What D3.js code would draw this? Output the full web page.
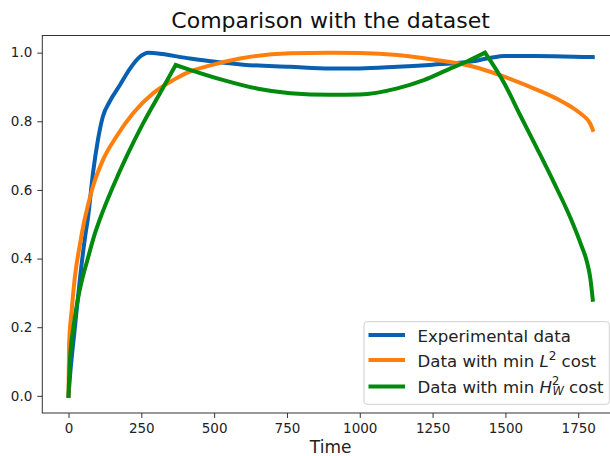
<!DOCTYPE html>
<html>
<head>
<meta charset="utf-8">
<script src="https://cdn.jsdelivr.net/npm/d3@7"></script>
<style>
  html, body { margin: 0; padding: 0; background: #fff; }
  svg { display: block; font-family: "DejaVu Sans", sans-serif; }
</style>
</head>
<body>
<svg id="chart" width="610" height="456"></svg>
<script>
// ---- Data ----
const title = "Comparison with the dataset";
const xLabel = "Time";
const xTicks = [0, 250, 500, 750, 1000, 1250, 1500, 1750];
const yTicks = [0.0, 0.2, 0.4, 0.6, 0.8, 1.0];

const experimentalT = [0, 5, 22, 40, 57, 67, 84, 101, 118, 141, 176, 210, 245, 273, 300, 417, 497, 600, 761, 900, 1000, 1129, 1250, 1381, 1450, 1496, 1600, 1700, 1800];
const experimentalV = [0, 0.056, 0.20, 0.347, 0.464, 0.52, 0.649, 0.746, 0.814, 0.857, 0.905, 0.952, 0.988, 1.0, 0.998, 0.983, 0.974, 0.965, 0.959, 0.954, 0.954, 0.959, 0.965, 0.974, 0.985, 0.99, 0.99, 0.989, 0.987];

const l2T = [0, 2, 11, 22, 40, 55, 63, 84, 118, 164, 221, 291, 359, 417, 474, 589, 761, 899, 1000, 1129, 1250, 1381, 1496, 1611, 1680, 1730, 1765, 1790, 1800];
const l2V = [0, 0.15, 0.25, 0.347, 0.445, 0.513, 0.542, 0.61, 0.687, 0.755, 0.823, 0.882, 0.92, 0.945, 0.96, 0.983, 0.998, 1.0, 0.999, 0.993, 0.98, 0.961, 0.93, 0.891, 0.864, 0.84, 0.818, 0.795, 0.775];

const h2T = [0, 5, 17, 34, 50, 63, 91, 107, 153, 199, 256, 314, 368, 417, 532, 650, 761, 899, 1000, 1129, 1220, 1301, 1370, 1430, 1496, 1553, 1611, 1668, 1726, 1760, 1780, 1792, 1800];
const h2V = [0, 0.105, 0.20, 0.29, 0.35, 0.39, 0.474, 0.513, 0.61, 0.697, 0.794, 0.882, 0.964, 0.95, 0.92, 0.895, 0.882, 0.877, 0.878, 0.896, 0.92, 0.95, 0.975, 1.0, 0.911, 0.814, 0.717, 0.619, 0.513, 0.44, 0.39, 0.34, 0.28];

const seriesNames = ["Experimental data", "Data with min L² cost", "Data with min H²_W cost"];
const seriesColors = ["#0a60b0", "#ff7f0e", "#008a0e"];

// ---- Layout ----
const svg = d3.select("#chart");
const plot = { left: 42.3, right: 619, top: 35.5, bottom: 413 };

const x = d3.scaleLinear().domain([-90, 1890]).range([plot.left, plot.right]);
const y = d3.scaleLinear().domain([-0.05, 1.05]).range([plot.bottom, plot.top]);

// ---- Series ----
function zipSeries(ts, vs) { return ts.map((t, i) => ({ t, v: vs[i] })); }
const series = [
  zipSeries(experimentalT, experimentalV),
  zipSeries(l2T, l2V),
  zipSeries(h2T, h2V)
];

const lineGen = d3.line().x(d => x(d.t)).y(d => y(d.v)).curve(d3.curveMonotoneX);

// split a series at sharp peaks (kinks) so each piece is smoothed separately
function pieces(data, kinkIdx) {
  const out = [];
  let start = 0;
  kinkIdx.forEach(k => { out.push(data.slice(start, k + 1)); start = k; });
  out.push(data.slice(start));
  return out;
}

const g = svg.append("g");
series.forEach((data, i) => {
  let parts;
  if (i === 2) {
    const k1 = h2T.indexOf(368), k2 = h2T.indexOf(1430);
    parts = pieces(data, [k1, k2]);
  } else parts = [data];
  g.append("path")
    .attr("d", parts.map(p => lineGen(p)).join(" ").replace(/ M/g, " L"))
    .attr("fill", "none")
    .attr("stroke", seriesColors[i])
    .attr("stroke-width", 4)
    .attr("stroke-linejoin", "miter")
    .attr("stroke-linecap", "square");
});

// ---- Axes ----
const xAxis = d3.axisBottom(x).tickValues(xTicks).tickSize(5).tickPadding(5).tickFormat(d3.format("d"));
const yAxis = d3.axisLeft(y).tickValues(yTicks).tickSize(5).tickPadding(5).tickFormat(d3.format(".1f"));

const gx = svg.append("g").attr("transform", `translate(0,${plot.bottom})`).call(xAxis);
const gy = svg.append("g").attr("transform", `translate(${plot.left},0)`).call(yAxis);
[gx, gy].forEach(ax => {
  ax.select(".domain").remove();
  ax.selectAll("line").attr("stroke", "#333").attr("stroke-width", 1);
  ax.selectAll("text").attr("fill", "#222").style("font-size", "13.5px").style("font-family", "DejaVu Sans");
});

// frame
svg.append("rect")
  .attr("x", plot.left).attr("y", plot.top)
  .attr("width", plot.right - plot.left).attr("height", plot.bottom - plot.top)
  .attr("fill", "none").attr("stroke", "#333").attr("stroke-width", 1);

// title and x label
svg.append("text").attr("x", (plot.left + plot.right) / 2).attr("y", 28)
  .attr("text-anchor", "middle").style("font-size", "22px").attr("fill", "#111").text(title);
svg.append("text").attr("x", (plot.left + plot.right) / 2).attr("y", 453)
  .attr("text-anchor", "middle").style("font-size", "17px").attr("fill", "#222").text(xLabel);

// ---- Legend ----
const leg = svg.append("g");
leg.append("rect").attr("x", 364).attr("y", 321.7).attr("width", 245.3).attr("height", 82.6)
  .attr("rx", 3).attr("fill", "#fff").attr("fill-opacity", 0.85).attr("stroke", "#d0d0d0").attr("stroke-width", 1);
const legY = [335, 360, 386.5];
seriesNames.forEach((name, i) => {
  leg.append("line").attr("x1", 368.5).attr("x2", 405).attr("y1", legY[i]).attr("y2", legY[i])
    .attr("stroke", seriesColors[i]).attr("stroke-width", 4);
  const t = leg.append("text").attr("x", 417.5).attr("y", legY[i] + 6.5).style("font-size", "16.6px").attr("fill", "#222");
  if (i === 0) {
    t.text(name);
  } else if (i === 1) {
    t.append("tspan").text("Data with min ");
    t.append("tspan").style("font-style", "italic").text("L");
    t.append("tspan").attr("dy", -7).style("font-size", "12px").text("2");
    t.append("tspan").attr("dy", 7).text(" cost");
  } else {
    t.append("tspan").text("Data with min ");
    t.append("tspan").style("font-style", "italic").text("H");
    t.append("tspan").attr("dy", -8.5).style("font-size", "11.5px").text("2");
    t.append("tspan").attr("dx", -6.8).attr("dy", 10.5).style("font-size", "11.5px").style("font-style", "italic").text("W");
    t.append("tspan").attr("dy", -2).text(" cost");
  }
});
</script>
</body>
</html>
